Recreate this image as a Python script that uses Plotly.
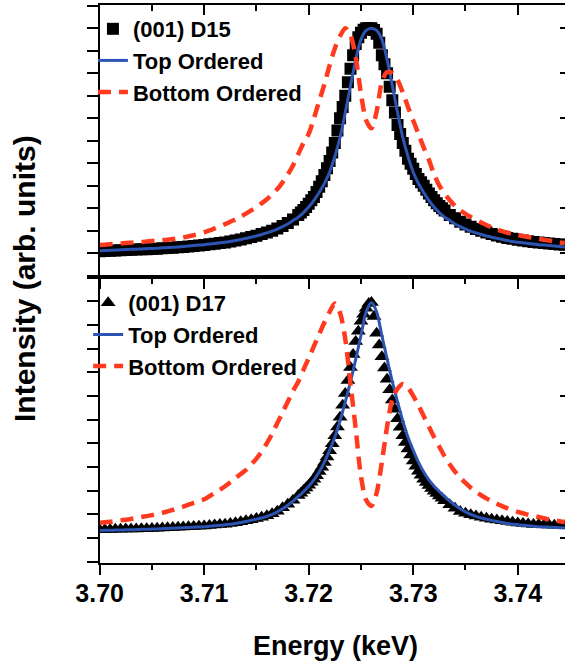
import plotly.graph_objects as go

# Photon energy (keV) of the model-curve samples
energy = [
    3.7000, 3.7005, 3.7010, 3.7015, 3.7020, 3.7025, 3.7030, 3.7035, 3.7040, 3.7045,
    3.7050, 3.7055, 3.7060, 3.7065, 3.7070, 3.7075, 3.7080, 3.7085, 3.7090, 3.7095,
    3.7100, 3.7105, 3.7110, 3.7115, 3.7120, 3.7125, 3.7130, 3.7135, 3.7140, 3.7145,
    3.7150, 3.7155, 3.7160, 3.7165, 3.7170, 3.7175, 3.7180, 3.7185, 3.7190, 3.7195,
    3.7200, 3.7205, 3.7210, 3.7215, 3.7220, 3.7225, 3.7230, 3.7235, 3.7240, 3.7245,
    3.7250, 3.7255, 3.7260, 3.7265, 3.7270, 3.7275, 3.7280, 3.7285, 3.7290, 3.7295,
    3.7300, 3.7305, 3.7310, 3.7315, 3.7320, 3.7325, 3.7330, 3.7335, 3.7340, 3.7345,
    3.7350, 3.7355, 3.7360, 3.7365, 3.7370, 3.7375, 3.7380, 3.7385, 3.7390, 3.7395,
    3.7400, 3.7405, 3.7410, 3.7415, 3.7420, 3.7425, 3.7430, 3.7435, 3.7440, 3.7445,
]

# Photon energy (keV) of the measured points (finer steps across the resonance)
energy_measured = [
    3.7000, 3.7005, 3.7010, 3.7015, 3.7020, 3.7025, 3.7030, 3.7035, 3.7040, 3.7045,
    3.7050, 3.7055, 3.7060, 3.7065, 3.7070, 3.7075, 3.7080, 3.7085, 3.7090, 3.7095,
    3.7100, 3.7105, 3.7110, 3.7115, 3.7120, 3.7125, 3.7130, 3.7135, 3.7140, 3.7145,
    3.7150, 3.7155, 3.7160, 3.7165, 3.7170, 3.7175, 3.7180, 3.7185,
    3.71900, 3.71925, 3.71950, 3.71975, 3.72000, 3.72025, 3.72050, 3.72075,
    3.72100, 3.72125, 3.72150, 3.72175, 3.72200, 3.72225, 3.72250, 3.72275,
    3.72300, 3.72325, 3.72350, 3.72375, 3.72400, 3.72425, 3.72450, 3.72475,
    3.72500, 3.72525, 3.72550, 3.72575, 3.72600, 3.72625, 3.72650, 3.72675,
    3.72700, 3.72725, 3.72750, 3.72775, 3.72800, 3.72825, 3.72850, 3.72875,
    3.72900, 3.72925, 3.72950, 3.72975, 3.73000, 3.73025, 3.73050, 3.73075,
    3.73100, 3.73125, 3.73150, 3.73175, 3.73200, 3.73225, 3.73250, 3.73275,
    3.73300,
    3.7335, 3.7340, 3.7345, 3.7350, 3.7355, 3.7360, 3.7365, 3.7370, 3.7375, 3.7380,
    3.7385, 3.7390, 3.7395, 3.7400, 3.7405, 3.7410, 3.7415, 3.7420, 3.7425, 3.7430,
    3.7435, 3.7440, 3.7445,
]

# (001) D15 reflection: measured intensity and the two model curves
d15_measured = [
    .009, .010, .011, .012, .013, .014, .015, .016, .017, .018,
    .019, .020, .022, .023, .024, .026, .028, .030, .032, .034,
    .036, .040, .042, .045, .048, .052, .056, .061, .066, .072,
    .078, .085, .092, .100, .110, .121, .134, .150,
    .170, .181, .192, .205, .220, .235, .250, .272,
    .295, .320, .348, .378, .410, .448, .490, .545,
    .600, .650, .700, .760, .820, .880, .930, .960,
    .980, .993, 1.000, 1.000, 1.000, .992, .975, .935,
    .880, .840, .800, .740, .680, .625, .570, .530,
    .490, .455, .420, .397, .375, .352, .330, .315,
    .300, .282, .265, .250, .235, .222, .210, .200,
    .190,
    .170, .155, .140, .128, .117, .108, .100, .092, .085, .079,
    .073, .068, .064, .060, .056, .053, .050, .047, .045, .043,
    .041, .039, .037,
]
d15_top_ordered = [
    .011, .012, .013, .014, .015, .016, .017, .018, .019, .020,
    .021, .022, .024, .025, .026, .028, .030, .032, .034, .036,
    .038, .041, .043, .046, .049, .052, .056, .061, .066, .071,
    .077, .083, .090, .098, .107, .118, .130, .145, .160, .180,
    .205, .235, .270, .310, .360, .430, .515, .625, .745, .860,
    .950, .990, 1.000, .990, .950, .860, .745, .625, .515, .430,
    .360, .310, .270, .235, .205, .180, .160, .145, .130, .118,
    .107, .098, .090, .083, .077, .071, .066, .061, .056, .052,
    .049, .046, .043, .041, .038, .036, .034, .032, .030, .028,
]
d15_bottom_ordered = [
    .036, .038, .040, .041, .043, .045, .047, .049, .050, .052,
    .054, .056, .058, .060, .063, .066, .070, .075, .080, .086,
    .093, .101, .110, .119, .129, .140, .150, .163, .176, .190,
    .205, .222, .240, .262, .285, .315, .350, .390, .440, .490,
    .530, .600, .675, .750, .835, .910, .965, 1.000, .970, .870,
    .710, .590, .555, .630, .760, .805, .800, .770, .715, .650,
    .590, .530, .470, .415, .350, .300, .265, .235, .210, .190,
    .175, .161, .148, .136, .125, .115, .106, .098, .091, .086,
    .081, .076, .072, .068, .064, .060, .056, .052, .048, .045,
]

# (001) D17 reflection: measured intensity and the two model curves
d17_measured = [
    .034, .035, .035, .036, .036, .037, .037, .038, .039, .039,
    .040, .041, .042, .043, .044, .045, .046, .047, .048, .049,
    .050, .052, .054, .056, .058, .061, .064, .068, .072, .077,
    .082, .087, .094, .102, .113, .127, .142, .159,
    .179, .189, .200, .211, .222, .235, .248, .263,
    .280, .298, .318, .342, .368, .398, .432, .468,
    .510, .560, .610, .665, .720, .775, .830, .873,
    .915, .945, .970, .990, .995, .935, .865, .815,
    .765, .718, .670, .626, .583, .543, .503, .467,
    .432, .403, .375, .350, .325, .303, .282, .265,
    .248, .234, .221, .209, .197, .187, .177, .167,
    .157,
    .140, .125, .111, .104, .098, .092, .087, .083, .079, .075,
    .072, .069, .066, .063, .061, .059, .057, .056, .055, .054,
    .053, .052, .051,
]
d17_top_ordered = [
    .031, .032, .032, .033, .033, .034, .034, .035, .036, .036,
    .037, .038, .039, .040, .041, .042, .043, .044, .045, .046,
    .047, .049, .051, .053, .055, .058, .061, .065, .069, .074,
    .079, .084, .091, .099, .110, .123, .138, .155, .175, .195,
    .218, .245, .278, .320, .370, .425, .495, .575, .660, .755,
    .855, .955, .995, .955, .855, .755, .660, .575, .495, .425,
    .370, .320, .278, .245, .218, .195, .175, .155, .138, .123,
    .110, .099, .091, .084, .079, .074, .069, .065, .061, .058,
    .055, .053, .051, .049, .047, .046, .045, .044, .043, .042,
]
d17_bottom_ordered = [
    .064, .066, .068, .071, .074, .077, .080, .084, .088, .092,
    .096, .101, .106, .112, .118, .125, .132, .140, .148, .155,
    .163, .176, .190, .203, .218, .235, .253, .270, .287, .310,
    .335, .365, .400, .440, .485, .530, .575, .620, .660, .710,
    .760, .810, .860, .910, .955, .990, .950, .840, .650, .460,
    .260, .160, .135, .190, .320, .470, .585, .630, .650, .635,
    .600, .560, .515, .470, .425, .385, .345, .310, .280, .255,
    .232, .212, .195, .180, .167, .155, .144, .134, .125, .117,
    .110, .104, .098, .093, .088, .083, .078, .074, .070, .066,
]

for series in (d15_top_ordered, d15_bottom_ordered, d17_top_ordered, d17_bottom_ordered):
    assert len(series) == len(energy)
for series in (d15_measured, d17_measured):
    assert len(series) == len(energy_measured)

x_tick_values = [3.70, 3.71, 3.72, 3.73, 3.74]
x_tick_labels = ["3.70", "3.71", "3.72", "3.73", "3.74"]

BLUE = "#2C55B3"
RED = "#FF3A1F"
FONT = "Liberation Sans, Arial, Helvetica, sans-serif"

X_RANGE = [3.70, 3.74452]
Y_RANGE = [-0.105, 1.103]
X_DOMAIN = [0.1398, 1.0]
LOWER_DOMAIN = [0.1576, 0.5856]
UPPER_DOMAIN = [0.5856, 0.9925]

fig = go.Figure()


def add_panel(xref, yref, legend, measured, top, bottom, label, symbol, size):
    fig.add_trace(go.Scatter(
        x=energy_measured, y=measured, mode="markers", name=label,
        marker=dict(symbol=symbol, size=size, color="black", line=dict(width=0)),
        xaxis=xref, yaxis=yref, legend=legend))
    fig.add_trace(go.Scatter(
        x=energy, y=top, mode="lines", name="Top Ordered",
        line=dict(color=BLUE, width=3, shape="spline", smoothing=0.8),
        xaxis=xref, yaxis=yref, legend=legend))
    fig.add_trace(go.Scatter(
        x=energy, y=bottom, mode="lines", name="Bottom Ordered",
        line=dict(color=RED, width=4.5, dash="13px,8px", shape="spline", smoothing=0.8),
        xaxis=xref, yaxis=yref, legend=legend))


add_panel("x2", "y2", "legend", d15_measured, d15_top_ordered, d15_bottom_ordered,
          "(001) D15", "square", 12)
add_panel("x", "y", "legend2", d17_measured, d17_top_ordered, d17_bottom_ordered,
          "(001) D17", "triangle-up", 13)

# Empty traces so the mirrored top / right tick axes get their own subplots drawn
for xref, yref in (("x3", "y"), ("x4", "y2"), ("x", "y3"), ("x2", "y4")):
    fig.add_trace(go.Scatter(x=[], y=[], xaxis=xref, yaxis=yref,
                             showlegend=False, hoverinfo="skip"))


def x_axis(ticks, minor_len, **extra):
    ax = dict(
        range=X_RANGE, domain=X_DOMAIN, showgrid=False, zeroline=False,
        showline=True, linecolor="black", linewidth=2,
        tickmode="array", tickvals=x_tick_values, ticktext=x_tick_labels,
        ticks=ticks, ticklen=10, tickwidth=2, tickcolor="black",
        minor=dict(tickmode="linear", tick0=3.70, dtick=0.005, ticks=ticks,
                   ticklen=minor_len, tickwidth=2, tickcolor="black", showgrid=False),
        showticklabels=False,
    )
    ax.update(extra)
    return ax


def y_axis(**extra):
    ax = dict(
        range=Y_RANGE, showgrid=False, zeroline=False,
        showline=True, linecolor="black", linewidth=2,
        tickmode="linear", tick0=0, dtick=0.1,
        ticks="outside", ticklen=11, tickwidth=2, tickcolor="black",
        showticklabels=False,
    )
    ax.update(extra)
    return ax


def y_right(overlay, anchor):
    return dict(
        range=Y_RANGE, overlaying=overlay, side="right", anchor=anchor,
        showgrid=False, zeroline=False, showline=False,
        tickmode="linear", tick0=0, dtick=0.2,
        ticks="inside", ticklen=5, tickwidth=2, tickcolor="black",
        showticklabels=False,
    )


legend_style = dict(
    xanchor="left", yanchor="top", bgcolor="rgba(0,0,0,0)", borderwidth=0,
    font=dict(family=FONT, size=22, color="black", weight="bold"),
    tracegroupgap=0, itemwidth=30,
)

fig.update_layout(
    width=565, height=668, autosize=False,
    margin=dict(l=0, r=0, t=0, b=0),
    paper_bgcolor="white", plot_bgcolor="white",
    font=dict(family=FONT, color="black"),
    xaxis=x_axis("outside", 5, anchor="y", showticklabels=True, ticklabelstandoff=-3,
                 tickfont=dict(family=FONT, size=25, color="black", weight="bold")),
    xaxis2=x_axis("outside", 5, anchor="y2"),
    xaxis3=x_axis("inside", 6, anchor="y", overlaying="x", side="top"),
    xaxis4=x_axis("inside", 6, anchor="y2", overlaying="x2", side="top"),
    yaxis=y_axis(anchor="x", domain=LOWER_DOMAIN),
    yaxis2=y_axis(anchor="x2", domain=UPPER_DOMAIN),
    yaxis3=y_right("y", "x"),
    yaxis4=y_right("y2", "x2"),
    legend=dict(legend_style, x=72 / 565, y=1 - 8 / 668),
    legend2=dict(legend_style, x=67 / 565, y=1 - 282 / 668),
    annotations=[
        dict(text="Energy (keV)", xref="paper", yref="paper",
             x=325 / 565, y=1 - 646 / 668, xanchor="center", yanchor="middle",
             showarrow=False, font=dict(family=FONT, size=27, color="black", weight="bold")),
        dict(text="Intensity (arb. units)", xref="paper", yref="paper",
             x=0.0, y=1 - 279 / 668, xanchor="center", yanchor="middle",
             textangle=-90, showarrow=False,
             font=dict(family=FONT, size=30, color="black", weight="bold")),
    ],
)

fig.write_html("out.html")
